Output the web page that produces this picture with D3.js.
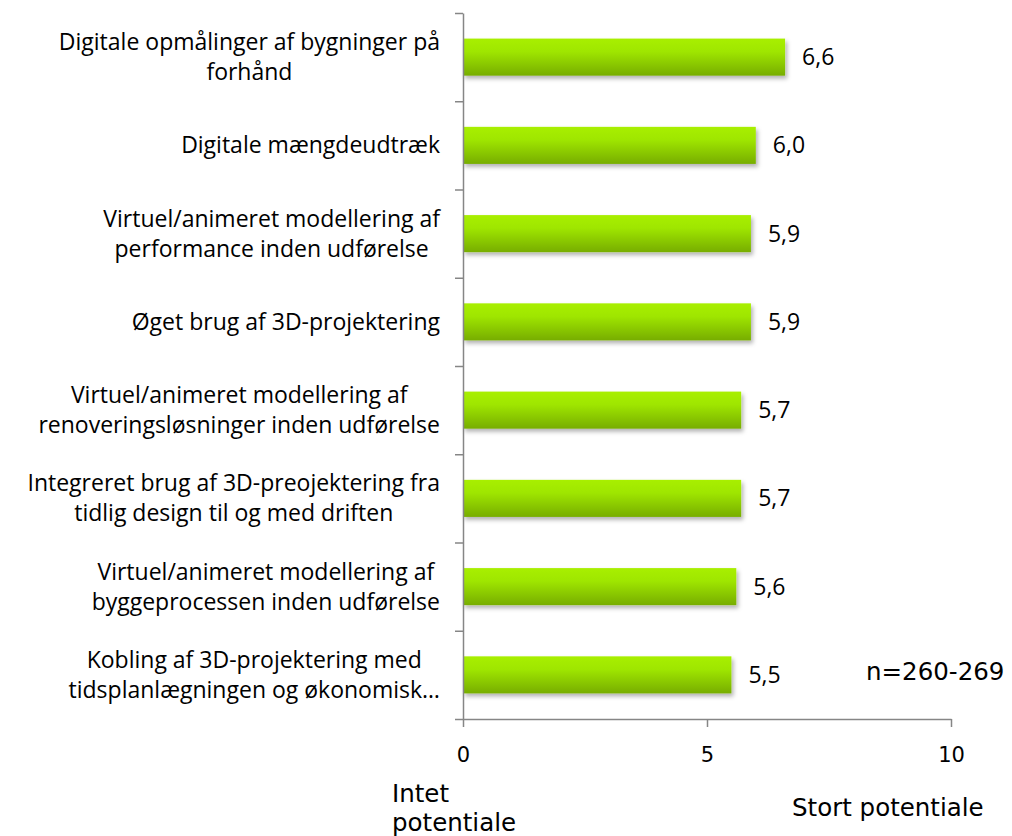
<!DOCTYPE html>
<html>
<head>
<meta charset="utf-8">
<script src="https://cdn.jsdelivr.net/npm/d3@7"></script>
<style>
  body { margin: 0; background: #fff; }
  svg { display: block; }
</style>
</head>
<body>
<svg></svg>
<script>
var screen = {width: 1012, height: 836};

// data
var categories = [
    ["Digitale opmålinger af bygninger på", "forhånd"],
    ["Digitale mængdeudtræk"],
    ["Virtuel/animeret modellering af", "performance inden udførelse"],
    ["Øget brug af 3D-projektering"],
    ["Virtuel/animeret modellering af", "renoveringsløsninger inden udførelse"],
    ["Integreret brug af 3D-preojektering fra", "tidlig design til og med driften"],
    ["Virtuel/animeret modellering af", "byggeprocessen inden udførelse"],
    ["Kobling af 3D-projektering med", "tidsplanlægningen og økonomisk…"]
];
var values = [6.6, 6.0, 5.9, 5.9, 5.7, 5.7, 5.6, 5.5];
var xTicks = [0, 5, 10];
var note = "n=260-269";
var lowLabel = ["Intet", "potentiale"];
var highLabel = "Stort potentiale";

var da = d3.formatLocale({decimal: ",", thousands: ".", grouping: [3], currency: ["", " kr"]});
var fmt = da.format(".1f");

var svg = d3.select("svg")
    .attr("width", screen.width)
    .attr("height", screen.height);

var defs = svg.append("defs");
var grad = defs.append("linearGradient")
    .attr("id", "barGrad")
    .attr("x1", 0).attr("y1", 0).attr("x2", 0).attr("y2", 1);
grad.append("stop").attr("offset", "0%").attr("stop-color", "#a8ef00");
grad.append("stop").attr("offset", "35%").attr("stop-color", "#9fe600");
grad.append("stop").attr("offset", "100%").attr("stop-color", "#77ad00");

var shadow = defs.append("filter").attr("id", "shadow")
    .attr("x", "-5%").attr("y", "-20%").attr("width", "115%").attr("height", "160%");
shadow.append("feDropShadow")
    .attr("dx", 2).attr("dy", 3).attr("stdDeviation", 2)
    .attr("flood-color", "#000").attr("flood-opacity", 0.3);

var xScale = d3.scaleLinear()
    .domain([0, 10])
    .range([463, 951]);

var yScale = d3.scaleBand()
    .domain(d3.range(categories.length))
    .range([13, 719])
    .paddingInner(0.58)
    .paddingOuter(0.29);

// bars
svg.append("g").selectAll("rect")
    .data(values)
    .enter().append("rect")
    .attr("x", xScale(0))
    .attr("y", function(d, i) { return yScale(i); })
    .attr("width", function(d) { return xScale(d) - xScale(0); })
    .attr("height", yScale.bandwidth())
    .attr("fill", "url(#barGrad)")
    .attr("filter", "url(#shadow)");

// value labels
svg.append("g").selectAll("text")
    .data(values)
    .enter().append("text")
    .attr("x", function(d) { return xScale(d) + 17; })
    .attr("y", function(d, i) { return yScale(i) + yScale.bandwidth() / 2; })
    .attr("dy", "0.35em")
    .style("font-family", "'Open Sans', sans-serif")
    .style("font-size", "23px")
    .attr("fill", "#000")
    .text(function(d) { return fmt(d); });

// axes
var tickScale = d3.scaleLinear().domain([0, categories.length]).range([13, 719]);
var yAxis = d3.axisLeft(tickScale)
    .ticks(categories.length)
    .tickFormat("")
    .tickSize(8)
    .tickSizeOuter(0);

var xAxis = d3.axisBottom(xScale)
    .tickValues(xTicks)
    .tickSize(8)
    .tickSizeOuter(0)
    .tickPadding(20);

var gy = svg.append("g")
    .attr("transform", "translate(" + xScale(0) + ",0)")
    .call(yAxis);

var gx = svg.append("g")
    .attr("transform", "translate(0,719)")
    .call(xAxis);

[gx, gy].forEach(function(g) {
    g.selectAll("path, line").attr("stroke", "#868686").attr("stroke-width", 1.5);
});
gx.selectAll("text")
    .style("font-family", "'DejaVu Sans', sans-serif")
    .style("font-size", "21px")
    .attr("fill", "#000");

// category labels: block right-aligned, lines centred inside it
var labelRight = 440;
var lineH = 30;
var catG = svg.append("g")
    .style("font-family", "'Open Sans', sans-serif")
    .style("font-size", "23px")
    .attr("fill", "#000");

categories.forEach(function(lines, i) {
    var cy = yScale(i) + yScale.bandwidth() / 2;
    var t = catG.append("text").attr("text-anchor", "middle");
    var spans = lines.map(function(l, j) {
        return t.append("tspan")
            .attr("y", cy + (j - (lines.length - 1) / 2) * lineH)
            .attr("dy", "0.35em")
            .text(l);
    });
    var w = d3.max(spans, function(s) { return s.node().getComputedTextLength(); });
    spans.forEach(function(s) { s.attr("x", labelRight - w / 2); });
});

// notes
var noteStyle = function(sel) {
    return sel.style("font-family", "'DejaVu Sans', sans-serif")
        .style("font-size", "24.5px")
        .attr("fill", "#000");
};
noteStyle(svg.append("text"))
    .attr("x", 866).attr("y", 680)
    .text(note);

var low = noteStyle(svg.append("text"));
lowLabel.forEach(function(l, j) {
    low.append("tspan").attr("x", 392).attr("y", 802 + j * 29).text(l);
});

noteStyle(svg.append("text"))
    .attr("x", 792).attr("y", 816)
    .text(highLabel);
</script>
</body>
</html>
